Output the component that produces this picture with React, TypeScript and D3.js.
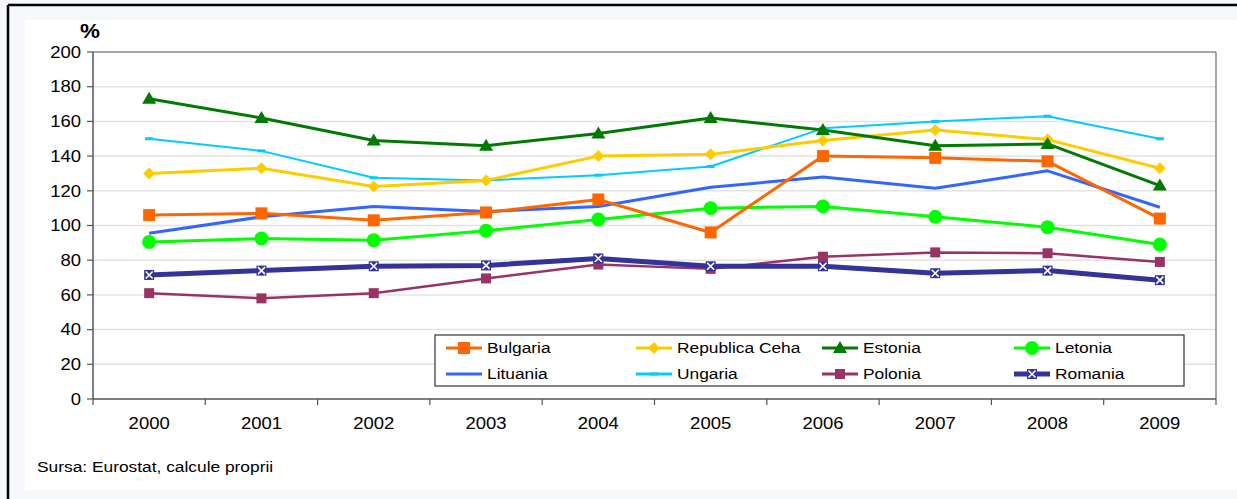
import React from "react";
import * as d3 from "d3";

const years = ["2000", "2001", "2002", "2003", "2004", "2005", "2006", "2007", "2008", "2009"];
const yTicks = [0, 20, 40, 60, 80, 100, 120, 140, 160, 180, 200];

const bulgaria = [106, 107, 103, 107.5, 115, 96, 140, 139, 137, 104];
const ceha = [130, 133, 122.5, 126, 140, 141, 149, 155, 149.5, 133];
const estonia = [173, 162, 149, 146, 153, 162, 155, 146, 147, 123];
const letonia = [90.5, 92.5, 91.5, 97, 103.5, 110, 111, 105, 99, 89];
const lituania = [95.5, 105, 111, 108, 111, 122, 128, 121.5, 131.5, 110.5];
const ungaria = [150, 143, 127.5, 126, 129, 134, 156, 160, 163, 150];
const polonia = [61, 58, 61, 69.5, 77.5, 75, 82, 84.5, 84, 79];
const romania = [71.5, 74, 76.5, 77, 81, 76.5, 76.5, 72.5, 74, 68.5];

type Marker = "square" | "diamond" | "triangle" | "circle" | "none" | "dash" | "smallsquare" | "xsquare";
interface Series { name: string; values: number[]; color: string; width: number; marker: Marker; }

const series: Series[] = [
  { name: "Polonia", values: polonia, color: "#993366", width: 2.5, marker: "smallsquare" },
  { name: "Ungaria", values: ungaria, color: "#00CCFF", width: 2, marker: "dash" },
  { name: "Republica Ceha", values: ceha, color: "#FFCC00", width: 3, marker: "diamond" },
  { name: "Letonia", values: letonia, color: "#00FF00", width: 3, marker: "circle" },
  { name: "Lituania", values: lituania, color: "#3366FF", width: 3, marker: "none" },
  { name: "Bulgaria", values: bulgaria, color: "#FF6600", width: 3, marker: "square" },
  { name: "Estonia", values: estonia, color: "#007A00", width: 3, marker: "triangle" },
  { name: "Romania", values: romania, color: "#333399", width: 5, marker: "xsquare" },
];

const legendOrder = ["Bulgaria", "Republica Ceha", "Estonia", "Letonia", "Lituania", "Ungaria", "Polonia", "Romania"];

const W = 1237, H = 499;
const plot = { left: 93, right: 1216, top: 52, bottom: 399 };
const STRETCH = 1.12;

// Text drawn with a slight horizontal stretch, anchored at (x, y)
function T({ x, y, size, anchor = "start", weight = "normal", children }: {
  x: number; y: number; size: number; anchor?: "start" | "middle" | "end"; weight?: string; children: React.ReactNode;
}) {
  return (
    <g transform={`translate(${x},${y}) scale(${STRETCH},1)`}>
      <text x={0} y={0} dy="0.35em" textAnchor={anchor} fontSize={size} fontWeight={weight} fill="#000">{children}</text>
    </g>
  );
}

function MarkerShape({ m, x, y, color }: { m: Marker; x: number; y: number; color: string }) {
  switch (m) {
    case "square":
      return <rect x={x - 6} y={y - 6} width={12} height={12} fill={color} />;
    case "smallsquare":
      return <rect x={x - 5} y={y - 5} width={10} height={10} fill={color} />;
    case "diamond":
      return <path d={`M${x},${y - 6}L${x + 6},${y}L${x},${y + 6}L${x - 6},${y}Z`} fill={color} />;
    case "triangle":
      return <path d={`M${x},${y - 7}L${x + 7},${y + 5}L${x - 7},${y + 5}Z`} fill={color} />;
    case "circle":
      return <circle cx={x} cy={y} r={7} fill={color} />;
    case "dash":
      return <rect x={x - 4} y={y - 1.5} width={8} height={3} fill={color} />;
    case "xsquare":
      return (
        <g>
          <rect x={x - 5} y={y - 5} width={10} height={10} fill={color} />
          <path d={`M${x - 3.5},${y - 3.5}L${x + 3.5},${y + 3.5}M${x + 3.5},${y - 3.5}L${x - 3.5},${y + 3.5}`} stroke="#fff" strokeWidth={1.6} />
        </g>
      );
    default:
      return null;
  }
}

export default function App() {
  const x = d3.scaleBand<string>().domain(years).range([plot.left, plot.right]);
  const y = d3.scaleLinear().domain([0, 200]).range([plot.bottom, plot.top]);
  const cx = (yr: string) => (x(yr) as number) + x.bandwidth() / 2;
  const line = d3.line<number>().x((_, i) => cx(years[i])).y((v) => y(v));
  const font = "'Liberation Sans', Arial, sans-serif";

  const legendCols = [446, 636, 822, 1014];
  const legendRows = [348, 374];

  return (
    <svg width={W} height={H} style={{ position: "absolute", left: 0, top: 0 }} fontFamily={font}>
      <rect x={0} y={0} width={W} height={H} fill="#F6F8FC" />
      <rect x={25} y={20} width={W - 25} height={470} fill="#FFFFFF" />
      <line x1={8} y1={5} x2={W} y2={5} stroke="#000" strokeWidth={2.5} />
      <line x1={8} y1={5} x2={8} y2={H} stroke="#000" strokeWidth={2.5} />

      {/* gridlines */}
      {yTicks.filter((t) => t > 0 && t < 200).map((t) => (
        <line key={t} x1={plot.left} x2={plot.right} y1={y(t)} y2={y(t)} stroke="#E3E3E3" strokeWidth={1.5} />
      ))}
      {/* plot frame */}
      <line x1={plot.left} x2={plot.right} y1={plot.top} y2={plot.top} stroke="#888" strokeWidth={1.5} />
      <line x1={plot.right} x2={plot.right} y1={plot.top} y2={plot.bottom} stroke="#888" strokeWidth={1.5} />
      <line x1={plot.left} x2={plot.left} y1={plot.top} y2={plot.bottom} stroke="#555" strokeWidth={1.5} />
      <line x1={plot.left} x2={plot.right} y1={plot.bottom} y2={plot.bottom} stroke="#555" strokeWidth={1.5} />

      {/* y axis */}
      {yTicks.map((t) => (
        <g key={t}>
          <line x1={plot.left - 6} x2={plot.left} y1={y(t)} y2={y(t)} stroke="#555" strokeWidth={1.2} />
          <T x={plot.left - 12} y={y(t)} size={16.5} anchor="end">{t}</T>
        </g>
      ))}
      <T x={80} y={31} size={20} weight="bold">%</T>

      {/* x axis */}
      {years.map((yr, i) => (
        <g key={yr}>
          <line x1={(x(yr) as number)} x2={(x(yr) as number)} y1={plot.bottom} y2={plot.bottom + 6} stroke="#555" strokeWidth={1.2} />
          {i === years.length - 1 && (
            <line x1={plot.right} x2={plot.right} y1={plot.bottom} y2={plot.bottom + 6} stroke="#555" strokeWidth={1.2} />
          )}
          <T x={cx(yr)} y={423} size={16.5} anchor="middle">{yr}</T>
        </g>
      ))}

      {/* series */}
      {series.map((s) => (
        <g key={s.name}>
          <path d={line(s.values) || ""} fill="none" stroke={s.color} strokeWidth={s.width} strokeLinejoin="round" />
          {s.values.map((v, i) => (
            <MarkerShape key={i} m={s.marker} x={cx(years[i])} y={y(v)} color={s.color} />
          ))}
        </g>
      ))}

      {/* legend */}
      <rect x={435} y={335} width={749} height={51} fill="#fff" stroke="#333" strokeWidth={1.2} />
      {legendOrder.map((name, i) => {
        const s = series.find((d) => d.name === name)!;
        const lx = legendCols[i % 4];
        const ly = legendRows[Math.floor(i / 4)];
        return (
          <g key={name}>
            <line x1={lx} x2={lx + 36} y1={ly} y2={ly} stroke={s.color} strokeWidth={s.width === 5 ? 5 : 3} />
            <MarkerShape m={s.marker} x={lx + 18} y={ly} color={s.color} />
            <T x={lx + 41} y={ly} size={15.5}>{name}</T>
          </g>
        );
      })}

      <T x={37} y={467} size={15.5}>Sursa: Eurostat, calcule proprii</T>
    </svg>
  );
}
